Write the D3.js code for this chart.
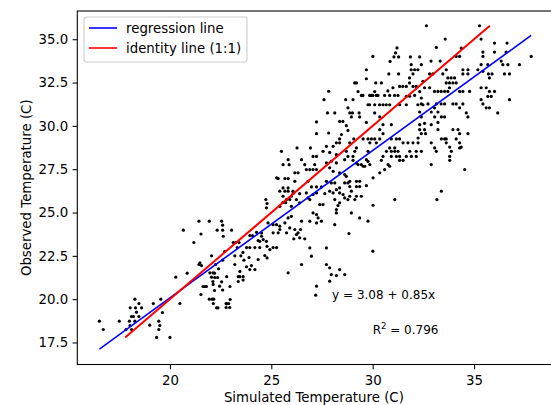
<!DOCTYPE html>
<html>
<head>
<meta charset="utf-8">
<script src="https://cdn.jsdelivr.net/npm/d3@7"></script>
<style>
  body { margin: 0; background: #fff; }
  svg { display: block; font-family: "DejaVu Sans", sans-serif; }
</style>
</head>
<body>
<svg id="chart" width="551" height="405"></svg>
<script>
// [simulated, observed] temperature pairs (C)
const points = [
  // cool end
  [16.52,18.73],[16.71,18.25],[17.5,18.73],[17.83,18.25],[18.27,20.0],[18.04,19.5],[18.47,19.75],[18.6,19.5],
  [18.1,19.0],[18.2,19.0],[18.47,19.0],[18.27,18.73],[18.03,18.48],[18.11,18.25],[19.18,19.75],[19.0,18.5],
  [19.45,18.73],[19.5,18.48],[19.45,18.25],[19.63,19.23],[19.34,17.79],[20.0,17.79],[19.55,20.0],[20.29,21.27],
  [20.49,19.75],[20.85,21.5],[18.3,19.5],[18.35,19.25],[18.0,18.73],
  // 21-23
  [20.66,23.98],[21.18,23.27],[21.43,24.5],[21.94,24.5],[21.53,23.76],[21.43,22.0],[21.53,20.27],[21.94,20.0],
  [21.63,20.73],[21.73,20.73],[21.8,20.73],[22.08,20.0],[22.16,20.0],[22.14,19.75],[22.3,19.5],[22.37,19.5],
  [22.77,19.75],[22.9,19.75],[22.97,19.98],[22.77,19.52],[22.95,19.52],[22.96,20.73],[22.55,24.5],[22.6,24.27],
  [22.33,23.98],[22.6,23.98],[22.63,23.63],[23.04,23.98],[23.12,23.27],[23.24,23.27],[23.41,23.27],[23.32,22.98],
  [21.48,22.1],[21.56,21.94],[21.97,21.52],[22.13,21.52],[22.05,21.27],[22.21,21.25],[22.12,21.02],[22.13,20.85],
  [22.05,22.5],[22.25,22.0],[22.4,21.75],[22.2,21.5],[22.35,21.25],[22.45,20.75],[22.6,22.25],[22.7,22.75],
  [22.55,21.0],[22.2,20.5],[22.8,21.3],[22.6,20.53],[22.79,19.73],
  // 23-26
  [23.78,22.98],[23.94,22.98],[24.19,22.98],[24.43,22.98],[24.52,23.63],[24.6,23.44],[24.43,23.34],[24.79,23.05],
  [24.93,22.86],[25.09,22.98],[25.26,22.98],[24.68,22.52],[24.79,22.38],[24.35,22.29],[24.02,21.94],[23.78,21.87],
  [23.94,21.71],[24.19,21.71],[23.45,21.6],[23.37,21.3],[23.45,21.3],[23.61,21.3],[23.37,21.02],[23.61,21.1],
  [23.94,23.67],[24.07,23.67],[24.27,23.86],[24.52,23.82],[25.09,24.3],[25.26,24.3],[24.35,23.38],[24.76,23.34],
  [25.09,23.83],[25.34,23.83],[25.42,24.02],[25.75,23.83],[25.91,24.11],[24.73,25.75],[24.79,25.52],[24.76,25.27],
  [25.42,25.36],[25.58,25.59],[25.75,25.75],[24.84,24.4],[25.42,24.21],[25.67,24.4],[25.83,24.69],[25.91,25.75],
  [25.99,25.36],[25.71,25.57],[25.83,21.52],[23.2,22.5],[23.6,22.7],[23.9,22.4],[23.5,22.5],[23.65,22.25],[23.2,22.0],
  // 26-29, low half
  [26.16,26.8],[26.81,26.8],[26.98,26.48],[27.23,26.48],[27.47,26.48],[27.72,26.8],[27.96,26.71],[28.13,26.71],
  [28.37,26.42],[28.62,26.71],[28.78,26.71],[26.07,26.09],[26.4,26.09],[26.73,26.13],[26.81,25.84],[27.06,26.04],
  [27.23,26.13],[27.64,26.09],[27.88,26.23],[28.05,26.13],[28.21,26.32],[28.37,26.13],[28.54,26.04],[28.62,25.84],
  [26.24,25.75],[26.4,25.56],[26.9,25.75],[27.39,25.46],[27.55,25.46],[28.13,25.75],[28.29,25.4],[28.21,25.17],
  [28.37,25.56],[28.78,25.75],[25.99,24.78],[26.49,24.5],[26.9,24.5],[27.06,24.98],[27.23,24.88],[27.31,24.69],
  [27.23,24.4],[27.47,24.5],[28.21,24.98],[29.77,24.5],[26.16,24.02],[26.32,23.83],[26.44,24.02],[26.24,23.73],
  [26.4,23.54],[26.11,23.48],[26.65,23.48],[28.13,24.3],[28.83,23.79],[30.01,22.77],[26.9,22.96],[27.72,22.96],
  [26.98,22.48],[26.49,22.0],[27.72,22.0],[27.88,21.81],[28.37,21.71],[27.96,21.42],[28.21,21.36],[28.62,21.42],
  [27.88,21.04],[27.23,20.75],[27.19,20.23],
  // 25-29, upper half
  [27.83,32.0],[27.6,31.51],[28.67,31.51],[27.77,30.75],[28.13,30.75],[28.78,31.04],[28.87,30.75],[28.37,30.26],
  [28.53,30.26],[27.23,30.23],[28.7,30.01],[28.78,29.74],[27.23,29.55],[27.83,29.59],[28.46,29.5],[28.37,29.25],
  [28.21,29.02],[28.37,29.02],[28.05,28.82],[27.72,28.82],[27.55,28.53],[27.88,28.47],[28.21,28.34],[28.7,28.53],
  [28.78,28.24],[28.62,28.05],[25.5,28.53],[26.27,28.73],[26.93,28.73],[25.83,28.05],[26.49,28.05],[25.58,27.76],
  [25.88,27.76],[27.06,28.24],[27.23,28.24],[26.73,27.48],[26.9,27.48],[27.06,27.48],[27.23,27.48],[26.16,27.29],
  [26.32,27.29],[26.65,27.76],[27.14,27.76],[27.72,27.86],[27.96,27.96],[28.21,27.86],[27.88,27.58],[28.05,27.38],
  [28.37,27.29],[28.62,27.19],[28.7,27.09],[25.34,26.96],[25.67,26.96],[25.83,26.96],[25.58,26.42],[25.83,26.42],
  [25.26,27.0],[25.42,26.23],[25.67,26.23],[25.83,26.23],[26.07,26.23],[25.58,25.94],[25.99,25.94],
  // 29-35, middle
  [29.0,30.75],[29.33,30.75],[30.1,30.75],[32.32,30.8],[32.89,30.8],[33.22,30.8],[34.62,30.75],
  [28.95,30.52],[29.36,30.52],[30.35,30.52],[32.4,30.52],[33.06,30.52],[33.39,30.52],[33.55,30.52],[34.7,30.52],
  [29.69,30.2],[30.51,30.07],[30.92,30.07],[32.32,30.07],[32.56,30.15],[32.89,30.07],[33.22,30.2],
  [30.35,29.78],[32.32,29.78],[32.56,29.78],[33.22,29.78],[33.96,29.78],[34.21,29.78],
  [30.51,29.55],[32.4,29.55],[32.61,29.55],[34.29,29.55],[34.7,29.55],
  [29.07,29.25],[29.53,29.25],[29.77,29.25],[29.94,29.25],[30.1,29.25],[30.35,29.25],[30.92,29.25],[31.17,29.25],
  [31.33,29.25],[32.24,29.3],[33.39,29.25],[33.55,29.25],[33.63,29.25],[34.12,29.25],
  [28.87,29.02],[29.86,29.02],[30.18,29.02],[31.5,29.02],[31.74,29.02],[31.99,29.02],[32.24,29.02],[32.89,29.02],
  [33.63,29.02],[34.29,29.02],
  [29.2,28.73],[30.84,28.73],[31.09,28.73],[33.06,28.73],[33.8,28.78],[34.29,28.73],[34.37,28.78],
  [29.12,28.53],[29.77,28.53],[30.68,28.53],[30.92,28.53],[31.09,28.53],[31.25,28.53],[31.83,28.53],[32.15,28.53],
  [32.4,28.53],[33.14,28.53],[33.88,28.53],
  [29.03,28.24],[30.51,28.24],[30.92,28.24],[31.17,28.24],[31.33,28.24],[31.66,28.24],[31.91,28.24],[32.15,28.24],
  [33.8,28.24],
  [29.03,28.01],[29.69,28.05],[29.77,27.95],[30.43,28.01],[31.33,28.01],[31.5,28.01],[33.8,28.01],
  [29.2,27.85],[29.28,27.77],[29.44,27.77],[29.86,27.77],[30.76,27.77],[32.89,27.77],
  [29.53,27.67],[29.61,27.67],[30.84,27.67],[30.59,27.48],[34.54,27.48],[30.35,27.29],[30.02,27.0],
  [28.87,26.8],[29.2,26.8],[29.36,26.8],[28.87,26.5],[29.2,26.5],[29.36,26.5],[29.69,26.55],
  [28.95,26.23],[33.39,26.23],[28.87,25.94],[29.2,25.94],[29.44,25.94],[29.12,25.75],[31.09,25.75],[33.17,25.75],
  [30.02,25.42],[28.95,24.98],[29.36,24.69],
  // 29-32.5, top
  [31.2,34.5],[31.13,34.21],[31.05,33.98],[31.28,33.98],[30.01,34.01],[30.86,33.72],[31.86,33.98],[32.32,33.98],
  [29.69,33.24],[30.8,33.0],[31.28,33.0],[31.9,33.53],[32.07,33.24],[32.23,33.24],[31.9,33.24],[31.99,33.0],
  [31.82,32.77],[29.69,32.72],[29.11,32.48],[29.2,32.48],[30.15,32.48],[30.43,32.48],[31.33,32.28],[31.49,32.28],
  [31.66,32.28],[31.82,32.48],[31.99,32.28],[32.15,32.28],[29.28,31.98],[30.1,31.98],[30.75,32.02],[31.0,32.2],
  [29.03,31.51],[29.44,31.76],[29.52,31.76],[29.85,31.76],[29.93,31.76],[30.01,31.76],[30.18,31.76],[30.26,31.76],
  [30.59,31.76],[30.84,31.76],[31.08,31.76],[31.25,31.76],[31.66,31.71],[31.82,31.71],[32.07,31.76],[32.32,31.98],
  [32.4,31.61],[29.77,31.22],[29.85,31.22],[30.1,31.22],[30.34,31.22],[30.51,31.22],[30.67,31.22],[30.84,31.22],
  [31.33,31.22],[31.66,31.22],[32.23,31.22],[32.48,31.22],
  // hot end
  [32.65,35.78],[35.27,35.78],[33.58,35.01],[35.35,35.01],[33.14,34.53],[34.37,34.49],[36.01,34.78],[36.63,34.78],
  [37.82,34.01],[35.44,34.26],[35.44,34.01],[36.01,34.26],[36.58,34.26],[34.12,34.01],[34.29,34.01],[32.88,33.74],
  [33.33,33.74],[32.4,33.53],[36.34,33.74],[36.42,33.53],[35.35,33.53],[35.68,33.53],[36.67,33.53],[37.24,33.53],
  [32.81,33.0],[32.97,33.0],[32.48,32.57],[33.46,33.0],[33.63,33.24],[34.45,33.24],[34.7,33.24],[34.45,33.0],
  [34.7,33.0],[35.19,33.24],[35.44,33.15],[35.71,33.0],[35.89,33.0],[35.76,32.77],[36.5,33.0],[36.75,33.0],
  [33.71,32.77],[33.87,32.77],[34.04,32.77],[33.63,32.48],[33.79,32.48],[33.96,32.48],[34.12,32.48],
  [32.56,32.2],[32.81,32.2],[33.79,32.2],[35.35,32.2],[35.6,32.2],
  [33.05,31.99],[33.22,31.99],[33.38,31.99],[33.55,31.99],[33.71,31.99],[34.29,31.99],[34.45,31.99],[34.78,31.99],
  [35.76,31.99],[36.01,31.99],[35.68,31.7],[35.85,31.7],[36.75,31.51],[35.35,31.51],
  [32.4,31.27],[32.73,31.27],[33.14,31.27],[33.38,31.27],[33.55,31.27],[33.96,31.27],[34.12,31.27],[34.45,31.27],
  [35.44,31.27],[33.05,31.04],[34.29,31.04],[35.6,31.04],[35.76,31.04],[36.17,30.75]
];

// fit shown on the plot
const regIntercept = 3.08;
const regSlope = 0.85;
const rSquared = 0.796;

const xTicks = [20, 25, 30, 35];
const yTicks = [17.5, 20.0, 22.5, 25.0, 27.5, 30.0, 32.5, 35.0];
const legendLabels = ["regression line", "identity line (1:1)"];
const legendColors = ["blue", "red"];

var svg = d3.select("#chart");
var pLeft = 77.3, pRight = 554.5, pTop = 11, pBottom = 364.5;

var x = d3.scaleLinear().domain([15.43, 38.97]).range([pLeft, pRight]);
var y = d3.scaleLinear().domain([16.23, 36.63]).range([pBottom, pTop]);

svg.append("clipPath").attr("id", "plotclip")
  .append("rect")
  .attr("x", pLeft).attr("y", pTop)
  .attr("width", pRight - pLeft).attr("height", pBottom - pTop);

var plot = svg.append("g").attr("clip-path", "url(#plotclip)");

//点
plot.selectAll("circle")
  .data(points)
  .enter()
  .append("circle")
  .attr("cx", d => x(d[0]))
  .attr("cy", d => y(d[1]))
  .attr("r", 1.6)
  .attr("fill", "black");

//回帰直線 (min..max of simulated)
var simExt = d3.extent(points, d => d[0]);
var obsExt = d3.extent(points, d => d[1]);
var line = d3.line().x(d => x(d[0])).y(d => y(d[1]));

plot.append("path")
  .datum(simExt.map(v => [v, regIntercept + regSlope * v]))
  .attr("d", line)
  .attr("fill", "none")
  .attr("stroke", legendColors[0])
  .attr("stroke-width", 1.6);

//1:1 line (min..max of observed)
plot.append("path")
  .datum(obsExt.map(v => [v, v]))
  .attr("d", line)
  .attr("fill", "none")
  .attr("stroke", legendColors[1])
  .attr("stroke-width", 2);

//軸
var xAxis = d3.axisBottom(x).tickValues(xTicks).tickSize(4.7).tickPadding(6.8)
  .tickSizeOuter(0).tickFormat(d3.format("d"));
var yAxis = d3.axisLeft(y).tickValues(yTicks).tickSize(4.7).tickPadding(4.3)
  .tickSizeOuter(0).tickFormat(d3.format(".1f"));

svg.append("g")
  .attr("transform", "translate(0," + pBottom + ")")
  .call(xAxis)
  .attr("font-size", 13.33)
  .attr("font-family", "DejaVu Sans")
  .call(g => g.select(".domain").remove())
  .call(g => g.selectAll("line").attr("stroke-width", 1.07));

svg.append("g")
  .attr("transform", "translate(" + pLeft + ",0)")
  .call(yAxis)
  .attr("font-size", 13.33)
  .attr("font-family", "DejaVu Sans")
  .call(g => g.select(".domain").remove())
  .call(g => g.selectAll("line").attr("stroke-width", 1.07));

svg.append("rect")
  .attr("x", pLeft).attr("y", pTop)
  .attr("width", pRight - pLeft).attr("height", pBottom - pTop)
  .attr("fill", "none")
  .attr("stroke", "black")
  .attr("stroke-width", 1.07);

svg.append("text")
  .attr("x", (pLeft + pRight) / 2 - 2)
  .attr("y", 401.5)
  .attr("text-anchor", "middle")
  .attr("font-size", 13.33)
  .text("Simulated Temperature (C)");

svg.append("text")
  .attr("transform", "translate(30.5," + (pTop + pBottom) / 2 + ") rotate(-90)")
  .attr("text-anchor", "middle")
  .attr("font-size", 13.33)
  .text("Observed Temperature (C)");

//式とR2
svg.append("text")
  .attr("x", x(28)).attr("y", y(20))
  .attr("font-size", 12)
  .text("y = " + regIntercept.toFixed(2) + " + " + regSlope.toFixed(2) + "x");

var r2 = svg.append("text")
  .attr("x", x(30)).attr("y", y(18))
  .attr("font-size", 12);
r2.append("tspan").text("R");
r2.append("tspan").attr("font-size", 8.5).attr("dy", -5).text("2");
r2.append("tspan").attr("dy", 5).text(" = " + rSquared.toFixed(3));

//凡例
var legend = svg.append("g");
legend.append("rect")
  .attr("x", 84).attr("y", 17)
  .attr("width", 163).attr("height", 45)
  .attr("rx", 2.8)
  .attr("fill", "white").attr("fill-opacity", 0.8)
  .attr("stroke", "#cccccc").attr("stroke-width", 1.07);

legendLabels.forEach(function(label, i){
  var ly = 28 + i * 20;
  legend.append("line")
    .attr("x1", 89).attr("x2", 117)
    .attr("y1", ly).attr("y2", ly)
    .attr("stroke", legendColors[i])
    .attr("stroke-width", 1.6);
  legend.append("text")
    .attr("x", 126).attr("y", ly + 4.8)
    .attr("font-size", 13.33)
    .text(label);
});
</script>
</body>
</html>
